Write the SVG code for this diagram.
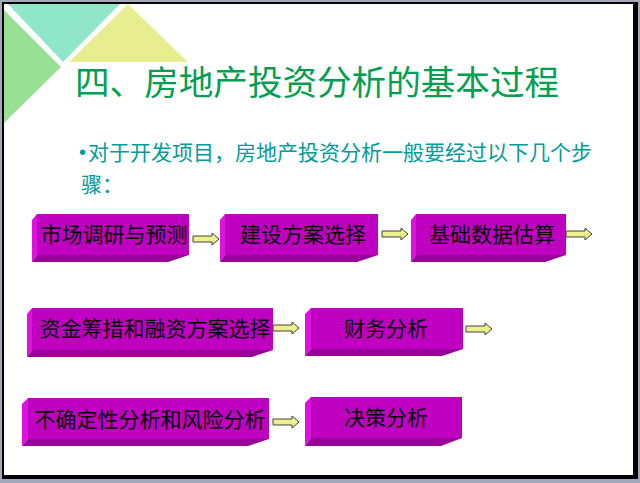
<svg xmlns="http://www.w3.org/2000/svg" width="640" height="483" viewBox="0 0 640 483">
<defs>
<style>
.front{fill:#c000c0}
.left{fill:#e010e0}
.bottom{fill:#990099}
.lbl{font-family:"Noto Sans CJK SC","DejaVu Sans",sans-serif;font-size:21px;fill:#000;text-anchor:middle}
.arrow{fill:#eef08c;stroke:#404040;stroke-width:1}
</style>
<path id="arr" d="M0,-3 H19 V-6 L26,0 L19,6 V3 H0 Z"/>
</defs>
<rect x="0" y="0" width="640" height="483" fill="#a4a8b8"/>
<rect x="2" y="2" width="636" height="477" fill="#000"/>
<rect x="4" y="4" width="629" height="471" fill="#fff"/>
<g id="decor">
<polygon points="8,4 120,4 63,62" fill="#90e6c8"/>
<polygon points="4,10 61,67 4,123" fill="#98e094"/>
<polygon points="128,4 188,62 69,62" fill="#e8ee90"/>
</g>
<g id="title">
<text x="75" y="95" font-family="'Noto Sans CJK SC',sans-serif" font-size="34.6" fill="#00a050">四、房地产投资分析的基本过程</text>
</g>
<g id="intro" font-family="'Noto Sans CJK SC',sans-serif" font-size="21" fill="#009c9c">
<text x="79" y="159" font-family="'Liberation Sans',sans-serif" font-size="20">•</text>
<text x="88" y="160">对于开发项目，房地产投资分析一般要经过以下几个步</text>
<text x="81" y="192">骤：</text>
</g>
<g id="n1">
<polygon class="left" points="37,214 32,220 32,262 37,255"/>
<polygon class="bottom" points="37,255 189,255 168,262 32,262"/>
<rect class="front" x="37" y="214" width="152" height="41"/>
<text class="lbl" x="114" y="242">市场调研与预测</text>
</g>
<g id="n2">
<polygon class="left" points="225,214 220,220 220,262 225,255"/>
<polygon class="bottom" points="225,255 378,255 357,262 220,262"/>
<rect class="front" x="225" y="214" width="153" height="41"/>
<text class="lbl" x="303" y="242">建设方案选择</text>
</g>
<g id="n3">
<polygon class="left" points="416,214 411,220 411,262 416,255"/>
<polygon class="bottom" points="416,255 566,255 545,262 411,262"/>
<rect class="front" x="416" y="214" width="150" height="41"/>
<text class="lbl" x="492" y="242">基础数据估算</text>
</g>
<g id="n4">
<polygon class="left" points="32,308 27,314 27,357 32,350"/>
<polygon class="bottom" points="32,350 273,350 252,357 27,357"/>
<rect class="front" x="32" y="308" width="241" height="42"/>
<text class="lbl" x="155" y="336">资金筹措和融资方案选择</text>
</g>
<g id="n5">
<polygon class="left" points="311,308 305,314 305,356 311,349"/>
<polygon class="bottom" points="311,349 463,349 442,356 305,356"/>
<rect class="front" x="311" y="308" width="152" height="41"/>
<text class="lbl" x="386" y="336">财务分析</text>
</g>
<g id="n6">
<polygon class="left" points="28,398 22,404 22,446 28,439"/>
<polygon class="bottom" points="28,439 269,439 248,446 22,446"/>
<rect class="front" x="28" y="398" width="241" height="41"/>
<text class="lbl" x="150" y="427">不确定性分析和风险分析</text>
</g>
<g id="n7">
<polygon class="left" points="311,397 305,403 305,446 311,438"/>
<polygon class="bottom" points="311,438 462,438 441,446 305,446"/>
<rect class="front" x="311" y="397" width="151" height="41"/>
<text class="lbl" x="386" y="425">决策分析</text>
</g>
<g id="connectors">
<use href="#arr" class="arrow" x="193" y="239"/>
<use href="#arr" class="arrow" x="382" y="234"/>
<use href="#arr" class="arrow" x="566" y="234"/>
<use href="#arr" class="arrow" x="273" y="328"/>
<use href="#arr" class="arrow" x="466" y="329"/>
<use href="#arr" class="arrow" x="273" y="422"/>
</g>
</svg>
